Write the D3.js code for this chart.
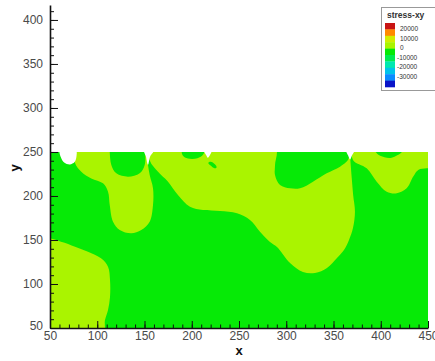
<!DOCTYPE html>
<html>
<head>
<meta charset="utf-8">
<script src="https://cdn.jsdelivr.net/npm/d3@7"></script>
<style>
  body { margin: 0; background: #fff; overflow: hidden; }
  svg { display: block; font-family: Arial, "Liberation Sans", sans-serif; }
</style>
</head>
<body>
<div id="chart"></div>
<script>
// Axis ticks
const xMajorTicks = [50, 100, 150, 200, 250, 300, 350, 400, 450]
const yMajorTicks = [50, 100, 150, 200, 250, 300, 350, 400]

// Contour legend (top to bottom)
const legendTitle = 'stress-xy'
const legendLabels = [20000, 10000, 0, -10000, -20000, -30000]
const legendColors = ['#c81414', '#ff8a00', '#d2ee00', '#aaf400', '#06ea06', '#00ec50', '#00e8b0', '#00c4ea', '#0a8cff', '#0a14c8']

// Domain of the computed field
const fieldX = [50, 450]
const fieldY = [50, 250]
const fieldLevel = -2500 // background band (green)

// Regions of the 0..5000 band (yellow-green), [x, y] in data units
const lowerLeftLobe = [[44, 150.5], [61.6, 148.1], [76.5, 142.4], [90.2, 136.7], [104, 129.2], [111.4, 119.7], [113.5, 104.5],
  [113.5, 85.2], [111.4, 70.5], [108.2, 59.1], [106, 44], [40, 40]]
const upperLeftTongue = [[76.5, 256], [76.5, 237.5], [83.1, 227.6], [93.7, 220], [106.1, 214.4], [111.4, 204.9], [113.2, 189.8],
  [116.7, 170.8], [123.8, 161.4], [136, 157.6], [146.6, 161.4], [155.5, 170.8], [159, 189.8], [159, 208.8], [155.5, 223.9],
  [153.7, 235.2], [152, 247.7], [151, 256]]
const centralLobe = [[155, 256], [288.1, 256], [288.1, 235], [288.1, 223.9], [293.4, 212.5], [304, 208.7], [314.6, 208.7], [328.3, 216.3],
  [342.8, 225.8], [356.9, 233.3], [365.3, 240.9], [367.5, 247.7], [368, 238.6], [369.3, 220.5], [370.8, 201.1], [372.7, 181.8],
  [370.6, 163.6], [366.4, 150], [361.1, 138.6], [353.7, 129.5], [343.1, 118.2], [330.4, 112.5], [317.7, 113.6], [304, 123.9],
  [290.2, 142], [282.8, 147.7], [272.2, 159.4], [261.6, 172.7], [247.9, 180.3], [229.9, 182.9], [211.9, 184.1], [198.1, 187.8],
  [185.4, 201.1], [174.9, 216.3], [164.3, 227.6], [155.8, 239.8]]
const upperRightLobe = [[372, 256], [370.6, 240.9], [385.1, 231.4], [395.7, 216.3], [406.3, 204.9], [416.9, 203.1], [427.4, 208.7],
  [434.4, 222], [439.7, 229.5], [448.6, 231.4], [458, 232], [458, 256]]

// Pockets of the -5000..0 band (green) inside the yellow-green regions
const tongueHole = [[113, 256], [113.2, 250], [114.9, 235.2], [120.2, 225.7], [132.5, 221.9], [144.9, 225.7], [150.2, 235.2], [150.8, 250], [151, 256]]
const centralSpot = [[190, 253], [190.5, 246], [196, 242.5], [206, 242.8], [212, 247], [213, 253]]
const centralDrop = [[217.5, 237.5], [220, 234.5], [224, 231.5], [226.3, 232.5], [224.5, 236], [220, 238.8]]
const rightSpecks = [[394, 252], [398, 246.5], [404, 244], [410, 243.2], [416, 245.5], [421, 248.5], [423, 252]]

// Blanked cells (no data)
const blankCells = [
  [[60.5, 252], [61.5, 244], [65, 238], [71, 235.8], [76, 238.5], [78, 245], [77.5, 252]],
  [[149.5, 252], [151.5, 245], [153.7, 235.5], [156, 245], [160, 252]],
  [[213, 252], [215.5, 246], [217, 243.5], [219, 246], [221, 252]],
  [[363.5, 252], [365.5, 246], [367.5, 241.5], [369.5, 246], [372, 252]]
]

const W = 435
const H = 361
const x = d3.scaleLinear().domain([50, 450]).range([50, 428])
const y = d3.scaleLinear().domain([50, 417]).range([328, 5])

const bandColor = d3.scaleThreshold()
  .domain([-25000, -20000, -15000, -10000, -5000, 0, 5000, 10000, 15000])
  .range(legendColors.slice().reverse())

const svg = d3.select('#chart').append('svg')
  .attr('width', W)
  .attr('height', H)
  .attr('viewBox', [0, 0, W, H].join(' '))

svg.append('defs').append('clipPath').attr('id', 'field')
  .append('rect')
  .attr('x', x(fieldX[0]))
  .attr('y', y(fieldY[1]))
  .attr('width', x(fieldX[1]) - x(fieldX[0]))
  .attr('height', y(fieldY[0]) - y(fieldY[1]))

const field = svg.append('g').attr('clip-path', 'url(#field)')

field.append('rect')
  .attr('x', x(fieldX[0]))
  .attr('y', y(fieldY[1]))
  .attr('width', x(fieldX[1]) - x(fieldX[0]))
  .attr('height', y(fieldY[0]) - y(fieldY[1]))
  .attr('fill', bandColor(fieldLevel))

const blob = d3.line()
  .x(d => x(d[0]))
  .y(d => y(d[1]))
  .curve(d3.curveCatmullRomClosed.alpha(0.5))

const layers = [
  { shapes: [lowerLeftLobe, upperLeftTongue, centralLobe, upperRightLobe], level: 2500 },
  { shapes: [tongueHole, centralSpot, centralDrop, rightSpecks], level: -2500 }
]

layers.forEach(layer => {
  field.selectAll(null)
    .data(layer.shapes)
    .enter().append('path')
    .attr('d', blob)
    .attr('fill', bandColor(layer.level))
})

svg.selectAll('.blank')
  .data(blankCells)
  .enter().append('path')
  .attr('d', blob)
  .attr('fill', '#fff')

// Axes with inward ticks
const yMinor = d3.range(50, 411, 10)
const xMinor = d3.range(50, 451, 10)

const yAxisG = svg.append('g').attr('transform', `translate(${x(50)},0)`)
yAxisG.call(d3.axisLeft(y).tickValues(yMinor).tickSizeInner(-4).tickSizeOuter(0).tickFormat(''))
yAxisG.call(g => g.select('.domain').remove())
const yMajorG = svg.append('g').attr('transform', `translate(${x(50)},0)`)
  .call(d3.axisLeft(y).tickValues(yMajorTicks).tickSizeInner(-8).tickSizeOuter(0).tickPadding(7))

const xAxisG = svg.append('g').attr('transform', `translate(0,${y(50)})`)
xAxisG.call(d3.axisBottom(x).tickValues(xMinor).tickSizeInner(-3.5).tickSizeOuter(0).tickFormat(''))
xAxisG.call(g => g.select('.domain').remove())
const xMajorG = svg.append('g').attr('transform', `translate(0,${y(50)})`)
  .call(d3.axisBottom(x).tickValues(xMajorTicks).tickSizeInner(-7).tickSizeOuter(0).tickPadding(3))

svg.selectAll('.tick line').attr('stroke', '#111').attr('stroke-width', 1)
svg.selectAll('.domain').attr('stroke', '#111').attr('stroke-width', 1.6)
svg.selectAll('.tick text')
  .attr('fill', '#4a4a4a')
  .style('font-size', '12px')

yMajorG.selectAll('.tick text').filter(d => d === 50).attr('dy', '0.1em')
xMajorG.selectAll('.tick text').attr('dy', '0.72em')

// Axis titles
svg.append('text')
  .attr('x', (x(50) + x(450)) / 2)
  .attr('y', 355)
  .attr('text-anchor', 'middle')
  .attr('fill', '#111')
  .style('font-size', '13px')
  .style('font-weight', 'bold')
  .text('x')

svg.append('text')
  .attr('transform', `translate(19,${y(232)}) rotate(-90)`)
  .attr('text-anchor', 'middle')
  .attr('fill', '#111')
  .style('font-size', '13px')
  .style('font-weight', 'bold')
  .text('y')

// Legend
const legend = svg.append('g')
legend.append('rect')
  .attr('x', 381.5)
  .attr('y', 7.5)
  .attr('width', 70)
  .attr('height', 83)
  .attr('fill', '#fff')
  .attr('stroke', '#999')
  .attr('stroke-width', 1)

legend.append('text')
  .attr('x', 387)
  .attr('y', 18)
  .attr('fill', '#333')
  .style('font-size', '8.5px')
  .style('font-weight', 'bold')
  .text(legendTitle)

const bandY = d3.scaleBand().domain(d3.range(legendColors.length)).range([23, 87])
legend.selectAll('.band')
  .data(legendColors)
  .enter().append('rect')
  .attr('x', 385)
  .attr('y', (d, i) => bandY(i))
  .attr('width', 10)
  .attr('height', bandY.bandwidth() + 0.3)
  .attr('fill', d => d)

const labelY = d3.scaleLinear().domain([20000, -30000]).range([29, 76.5])
legend.selectAll('.lbl')
  .data(legendLabels)
  .enter().append('text')
  .attr('x', d => d < 0 ? 397 : 400)
  .attr('y', d => labelY(d))
  .attr('dy', '0.35em')
  .attr('fill', '#333')
  .style('font-size', '6.5px')
  .text(d => d)
</script>
</body>
</html>
